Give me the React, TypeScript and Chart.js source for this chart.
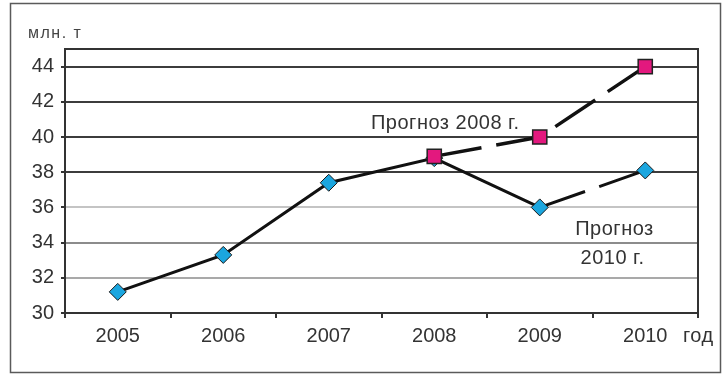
import { useEffect, useRef } from 'react';
import { Chart, registerables } from 'chart.js';

Chart.register(...registerables);

const years = ['2005', '2006', '2007', '2008', '2009', '2010'];
const forecast2010 = [31.2, 33.3, 37.4, 38.8, 36.0, 38.1];
const forecast2008 = [null, null, null, 38.9, 40.0, 44.0];
const yTicks = [30, 32, 34, 36, 38, 40, 42, 44];
const Y_MIN = 30;
const Y_MAX = 45;
const unitLabel = 'млн. т';
const xUnitLabel = 'год';
const note2008 = 'Прогноз 2008 г.';
const note2010 = ['Прогноз', '2010 г.'];

const FONT = '"Liberation Sans", Arial, sans-serif';
const TEXT = '#333333';
const DASH = [48, 15];

function gridColor(v: number) {
  if (v >= 38) return '#3c3c3c';
  if (v === 36) return '#c4c4c4';
  if (v === 34) return '#8c8c8c';
  if (v === 32) return '#a9a9a9';
  return '#333333';
}

const decor = {
  id: 'decor',
  beforeDraw(chart: any) {
    const { ctx, width, height } = chart;
    ctx.save();
    ctx.fillStyle = '#ffffff';
    ctx.fillRect(0, 0, width, height);
    ctx.strokeStyle = '#5a5a5a';
    ctx.lineWidth = 1.5;
    ctx.strokeRect(10.5, 3.5, 710, 369);
    ctx.restore();
  },
  afterDraw(chart: any) {
    const { ctx, chartArea } = chart;
    const xs = chart.scales.x;
    const ys = chart.scales.y;
    ctx.save();
    // plot frame (top and right)
    ctx.strokeStyle = '#333';
    ctx.lineWidth = 2;
    ctx.beginPath();
    ctx.moveTo(chartArea.left, chartArea.top);
    ctx.lineTo(chartArea.right, chartArea.top);
    ctx.lineTo(chartArea.right, chartArea.bottom + 4);
    ctx.stroke();

    ctx.fillStyle = '#444';
    ctx.textBaseline = 'middle';
    ctx.textAlign = 'left';
    ctx.font = `16px ${FONT}`;
    (ctx as any).letterSpacing = '1.5px';
    ctx.fillText(unitLabel, 28, 34);

    ctx.fillStyle = TEXT;
    ctx.font = `20px ${FONT}`;
    (ctx as any).letterSpacing = '0.5px';
    ctx.textAlign = 'left';
    ctx.fillText(xUnitLabel, 683, 336);

    ctx.textAlign = 'center';
    ctx.fillText(note2008, xs.getPixelForValue(3) + 11, ys.getPixelForValue(40.75));
    const cx = (xs.getPixelForValue(4) + xs.getPixelForValue(5)) / 2 + 22;
    ctx.fillText(note2010[0], cx, ys.getPixelForValue(34.75));
    ctx.fillText(note2010[1], cx - 2, ys.getPixelForValue(33.1));
    (ctx as any).letterSpacing = '0px';
    ctx.restore();
  },
};

export default function App() {
  const ref = useRef<HTMLCanvasElement>(null);
  useEffect(() => {
    if (!ref.current) return;
    const chart = new Chart(ref.current, {
      type: 'line',
      data: {
        labels: years,
        datasets: [
          {
            label: note2008,
            data: forecast2008 as any,
            borderColor: '#111',
            borderWidth: 3.5,
            borderDash: DASH,
            pointStyle: 'rect',
            pointRadius: 10,
            pointBackgroundColor: '#e3187e',
            pointBorderColor: '#222',
            pointBorderWidth: 1.5,
            tension: 0,
            spanGaps: false,
          },
          {
            label: note2010.join(' '),
            data: forecast2010,
            borderColor: '#111',
            borderWidth: 3,
            segment: {
              borderDash: (c: any) => (c.p0DataIndex >= 4 ? DASH : undefined),
            },
            pointStyle: 'rectRot',
            pointRadius: 8.5,
            pointBackgroundColor: '#1ba6df',
            pointBorderColor: '#1a1a1a',
            pointBorderWidth: 1,
            tension: 0,
          },
        ],
      },
      options: {
        responsive: false,
        animation: false,
        layout: { padding: { left: 0, top: 49, right: 29, bottom: 0 } },
        plugins: { legend: { display: false }, tooltip: { enabled: false } },
        scales: {
          x: {
            type: 'category',
            offset: true,
            grid: {
              offset: true,
              drawOnChartArea: false,
              drawTicks: true,
              tickLength: 5,
              tickColor: '#333',
              lineWidth: 2,
            },
            border: { color: '#333', width: 2 },
            ticks: {
              color: TEXT,
              font: { family: FONT, size: 20 },
              padding: 6,
              maxRotation: 0,
              autoSkip: false,
            },
            afterFit: (s: any) => {
              s.height = 63;
            },
          },
          y: {
            min: Y_MIN,
            max: Y_MAX,
            afterBuildTicks: (s: any) => {
              s.ticks = yTicks.map((v) => ({ value: v }));
            },
            afterFit: (s: any) => {
              s.width = 65;
            },
            grid: {
              color: (c: any) => gridColor(c.tick ? c.tick.value : 30),
              lineWidth: 2,
              tickLength: 4,
              tickColor: '#333',
            },
            border: { color: '#333', width: 2 },
            ticks: {
              color: TEXT,
              font: { family: FONT, size: 20 },
              padding: 7,
            },
          },
        },
      },
      plugins: [decor],
    });
    return () => chart.destroy();
  }, []);
  return (
    <div style={{ position: 'absolute', left: 0, top: 0, width: 727, height: 376 }}>
      <canvas ref={ref} width={727} height={376} style={{ display: 'block' }} />
    </div>
  );
}
